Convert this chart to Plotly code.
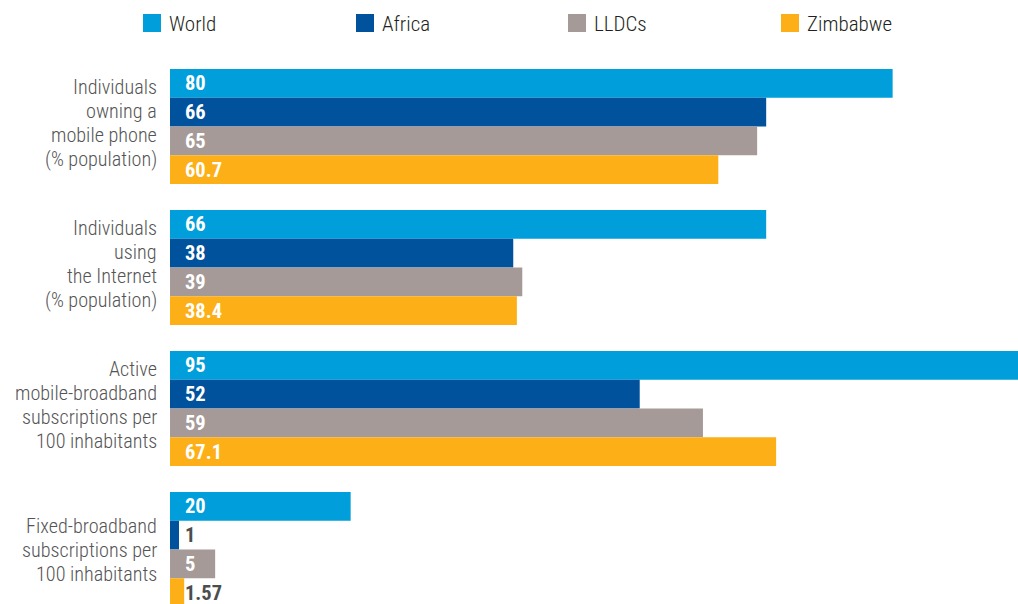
import plotly.graph_objects as go

# ---------------- data ----------------
category_lines = [
    ["Individuals", "owning a", "mobile phone", "(% population)"],
    ["Individuals", "using", "the Internet", "(% population)"],
    ["Active", "mobile-broadband", "subscriptions per", "100 inhabitants"],
    ["Fixed-broadband", "subscriptions per", "100 inhabitants"],
]
series_names = ["World", "Africa", "LLDCs", "Zimbabwe"]
world = [80, 66, 95, 20]
africa = [66, 38, 52, 1]
lldcs = [65, 39, 59, 5]
zimbabwe = [60.7, 38.4, 67.1, 1.57]
series_values = [world, africa, lldcs, zimbabwe]
series_colors = ["#009edb", "#00529c", "#a69a98", "#fcaf17"]

# ---------------- layout constants ----------------
W, H = 1018, 604
ML, MR, MT, MB = 170, 0, 56, 0
FONT = "Noto Sans Condensed, Roboto Condensed, Liberation Sans Narrow, DejaVu Sans Condensed, sans-serif"
BARGAP = 26 / 141
n_cat = len(category_lines)
y_pos = list(range(n_cat))
plot_h = H - MT - MB
plot_w = W - ML - MR
px_per_cat = 141
y_bottom = -0.5 + plot_h / px_per_cat
x_max = plot_w / 9.033

fig = go.Figure()
for name, vals, col in zip(series_names, series_values, series_colors):
    fig.add_trace(go.Bar(
        name=name, x=vals, y=y_pos, orientation="h",
        marker=dict(color=col, line=dict(width=0)),
        showlegend=False, hoverinfo="x+name",
    ))

annotations = []
shapes = []
bw = (1 - BARGAP) / len(series_names)
# value labels
for si, vals in enumerate(series_values):
    for ci, v in enumerate(vals):
        inside = v * 9.033 > 32
        annotations.append(dict(
            x=0, y=ci + (si - 1.5) * bw, xref="x", yref="y",
            text=f"{v:g}", showarrow=False, xanchor="left", yanchor="middle",
            xshift=13,
            font=dict(family=FONT, size=20.5, weight="bold",
                      color="#ffffff" if inside else "#4d4d4d"),
        ))

# category labels (one annotation per line for tight line spacing)
for ci, lines in enumerate(category_lines):
    n = len(lines)
    base = -4 if n == 4 else 0
    for k, ln in enumerate(lines):
        off = (k - (n - 1) / 2) * 24 + base
        annotations.append(dict(
            x=0, y=ci, xref="paper", yref="y", text=ln, showarrow=False,
            xanchor="right", yanchor="middle", xshift=-11, yshift=-off,
            font=dict(family=FONT, size=20.2, weight=300, color="#555555"),
        ))

# legend (manual, large squares)
leg_x = [143, 356, 568, 781]
for name, col, lx in zip(series_names, series_colors, leg_x):
    x0 = (lx - ML) / plot_w
    x1 = (lx + 18 - ML) / plot_w
    y0 = (H - MB - 32) / plot_h
    y1 = (H - MB - 14) / plot_h
    shapes.append(dict(type="rect", xref="paper", yref="paper",
                       x0=x0, x1=x1, y0=y0, y1=y1,
                       fillcolor=col, line=dict(width=0)))
    annotations.append(dict(
        x=(lx + 24 - ML) / plot_w, y=(H - MB - 24) / plot_h,
        xref="paper", yref="paper", text=name, showarrow=False,
        xanchor="left", yanchor="middle",
        font=dict(family=FONT, size=21, weight=300, color="#231f20"),
    ))

fig.update_layout(
    width=W, height=H,
    margin=dict(l=ML, r=MR, t=MT, b=MB, pad=0),
    barmode="group", bargap=BARGAP, bargroupgap=0,
    plot_bgcolor="white", paper_bgcolor="white",
    xaxis=dict(range=[0, x_max], visible=False, fixedrange=True),
    yaxis=dict(range=[y_bottom, -0.5], visible=False, fixedrange=True),
    annotations=annotations, shapes=shapes,
    font=dict(family=FONT),
)

fig.write_html("out.html", config={"displayModeBar": False})
